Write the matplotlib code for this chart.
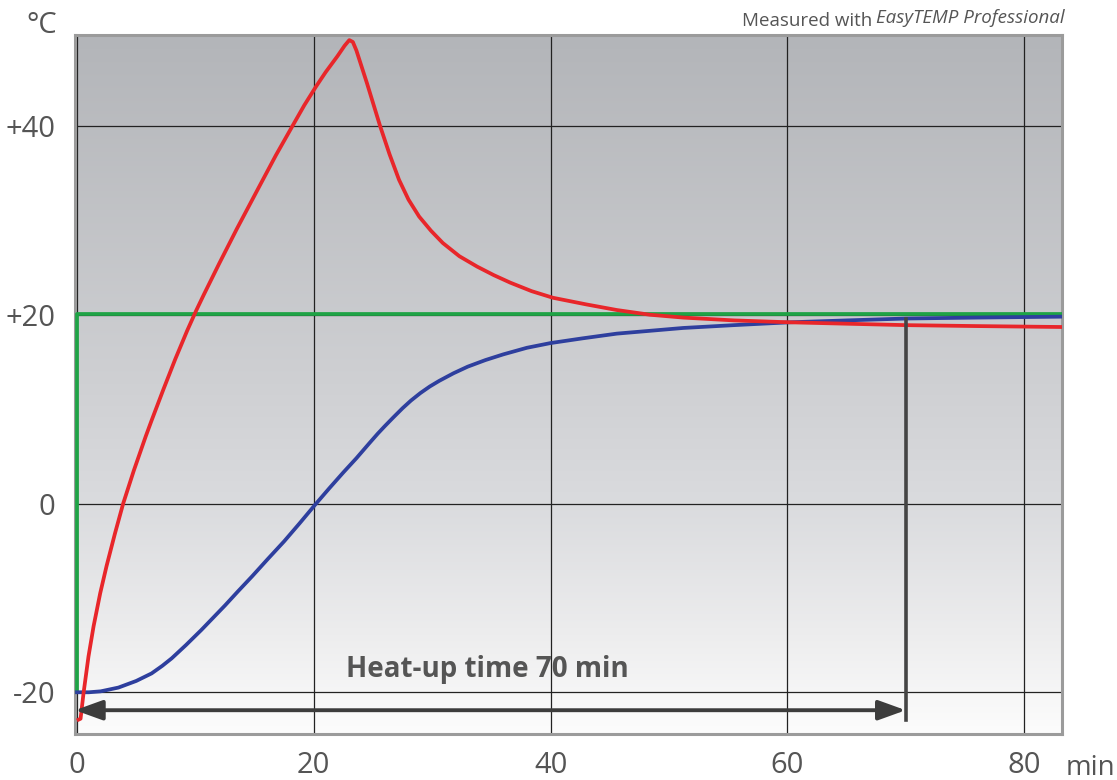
import matplotlib.pyplot as plt
import numpy as np
from matplotlib.colors import LinearSegmentedColormap

plt.rcParams['font.family'] = ['Open Sans', 'DejaVu Sans']

# setpoint (green)
setpoint_t = [0, 0, 83.3]
setpoint_T = [-20.0, 20.1, 20.1]

# bath temperature (red)
bath_t = [0.13, 0.3, 0.55, 0.97, 1.4, 1.96, 2.5, 3.2, 3.9, 4.8, 5.8, 6.3, 7.3, 8.3, 9.3,
          10.05, 10.7, 12.0, 13.5, 15.4, 16.8, 18.2, 19.2, 20.2, 21.0, 22.0, 22.6, 23.0, 23.3,
          23.6, 24.5, 25.6, 26.4, 27.2, 28.0, 28.9, 29.9, 30.9, 32.3, 33.8, 35.2, 36.6, 38.4,
          40.2, 43.0, 45.6, 48.4, 51.2, 55.5, 60.2, 65.0, 70.0, 76.0, 83.3]
bath_T = [-22.9, -22.8, -20.1, -16.2, -13.0, -9.5, -6.6, -3.2, 0.0, 3.5, 7.1, 8.8, 12.1, 15.3, 18.3,
          20.4, 22.1, 25.4, 29.1, 33.6, 36.9, 40.0, 42.2, 44.2, 45.7, 47.4, 48.5, 49.1, 48.9,
          48.0, 44.5, 40.0, 37.0, 34.3, 32.2, 30.4, 28.9, 27.6, 26.2, 25.1, 24.2, 23.4, 22.5,
          21.8, 21.1, 20.5, 20.0, 19.7, 19.4, 19.2, 19.05, 18.9, 18.8, 18.7]

# sample temperature (blue)
sample_t = [0, 1.0, 2.0, 3.5, 5.0, 6.3, 7.2, 8.0, 9.2, 10.5, 11.5, 12.5, 13.6, 14.8, 16.1, 17.5,
            18.8, 20.2, 21.3, 22.5, 23.6, 24.7, 25.4, 26.0, 26.7, 27.5, 28.2, 29.0, 29.8, 30.6,
            31.8, 33.0, 34.5, 36.0, 38.0, 40.0, 42.7, 45.6, 48.4, 51.2, 55.5, 60.2, 65.0, 70.0,
            76.0, 83.3]
sample_T = [-20.0, -20.0, -19.9, -19.5, -18.8, -18.0, -17.2, -16.4, -15.0, -13.4, -12.1, -10.8,
            -9.3, -7.7, -5.9, -4.0, -2.1, 0.0, 1.6, 3.3, 4.8, 6.4, 7.4, 8.2, 9.1, 10.1, 10.9, 11.7,
            12.4, 13.0, 13.8, 14.5, 15.2, 15.8, 16.5, 17.0, 17.5, 18.0, 18.3, 18.6, 18.9, 19.2,
            19.4, 19.6, 19.7, 19.8]

heatup_min = 70
marker_top = 19.5
arrow_T = -21.9

xticks = [0, 20, 40, 60, 80]
yticks = [-20, 0, 20, 40]
ylabels = ['-20', '0', '+20', '+40']

fig = plt.figure(figsize=(11.17, 7.8), dpi=100)
ax = fig.add_axes([75 / 1117, 1 - 734 / 780, 987 / 1117, 699 / 780])
xmin, xmax = -0.17, 83.2
ymin, ymax = -24.42, 49.64
ax.set_xlim(xmin, xmax)
ax.set_ylim(ymin, ymax)

# gray to white background
bg = LinearSegmentedColormap.from_list('bg', [(0, '#fcfcfc'), (0.15, '#ececed'), (0.33, '#dadbde'),
                                              (0.5, '#cfd0d3'), (1, '#b3b5b9')])
grad = np.linspace(0, 1, 256).reshape(-1, 1)
ax.imshow(grad, cmap=bg, origin='lower', aspect='auto', extent=[xmin, xmax, ymin, ymax], zorder=0)

ax.set_xticks(xticks)
ax.set_yticks(yticks)
ax.set_yticklabels(ylabels)
ax.grid(True, color='#222222', lw=0.9, zorder=1)
ax.tick_params(length=0, labelsize=21, colors='#555555')
ax.tick_params(axis='y', pad=14)
ax.tick_params(axis='x', pad=12)
for s in ax.spines.values():
    s.set_color('#9b9b9b')
    s.set_linewidth(2.2)

ax.plot(setpoint_t, setpoint_T, color='#1fa346', lw=2.7, zorder=3)
ax.plot(sample_t, sample_T, color='#2e3f9e', lw=2.7, zorder=4, solid_joinstyle='round')
ax.plot(bath_t, bath_T, color='#e8262a', lw=2.7, zorder=5, solid_joinstyle='round')

ax.plot([heatup_min, heatup_min], [marker_top, -22.9], color='#444444', lw=2.6, zorder=6)
ax.annotate('', xy=(xmin, arrow_T), xytext=(heatup_min, arrow_T),
            arrowprops=dict(arrowstyle='<|-|>,head_length=0.83,head_width=0.3', color='#3c3c3c',
                            lw=2.8, shrinkA=0, shrinkB=0, mutation_scale=20), zorder=6)
ax.text(34.7, -18.4, 'Heat-up time 70 min', fontsize=20, fontweight='bold', color='#555555',
        ha='center', va='baseline', zorder=2)

fig.text(57 / 1117, 1 - 33 / 780, '°C', fontsize=21, color='#555555', ha='right', va='baseline')
fig.text(1066 / 1117, 1 - 775 / 780, 'min', fontsize=20, color='#555555', ha='left', va='baseline')
t1 = fig.text(1065 / 1117, 1 - 23 / 780, 'EasyTEMP Professional', fontsize=13.5, color='#555555',
              style='italic', ha='right', va='baseline')
fig.canvas.draw()
bb = t1.get_window_extent()
fig.text(bb.x0 - 4, bb.y0 + 1, 'Measured with', fontsize=13.5, color='#555555', ha='right',
         va='baseline', transform=None)

fig.savefig('out.png', dpi=100)
